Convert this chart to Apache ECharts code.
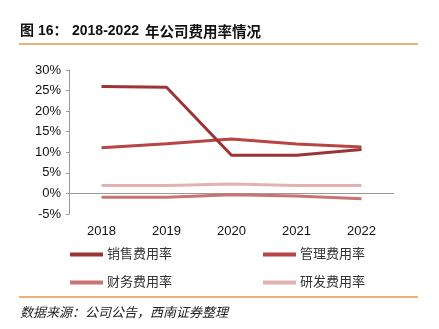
<!DOCTYPE html>
<html>
<head>
<meta charset="utf-8">
<script src="https://cdn.jsdelivr.net/npm/echarts@6/dist/echarts.min.js"></script>
<style>
html,body{margin:0;padding:0;background:#fff;}
#c{width:439px;height:329px;}
</style>
</head>
<body>
<div id="c"></div>
<script>
const categories = ['2018', '2019', '2020', '2021', '2022'];
const seriesNames = ['销售费用率', '管理费用率', '财务费用率', '研发费用率'];
const salesRate = [26.0, 25.8, 9.3, 9.3, 10.7];
const adminRate = [11.1, 12.1, 13.2, 12.0, 11.3];
const financeRate = [-0.9, -0.9, -0.3, -0.6, -1.3];
const rdRate = [1.9, 1.9, 2.3, 1.9, 1.9];
const yTicks = { min: -5, max: 30, interval: 5 };
const titleParts = ['图 16：', '2018-2022', '年公司费用率情况'];
const sourceText = '数据来源：公司公告，西南证券整理';

const colors = ['#9C3434', '#B84444', '#CB7272', '#E2B2B2'];
const values = [salesRate, adminRate, financeRate, rdRate];
const cjk = '"Liberation Sans", Arial, "Noto Sans CJK SC", sans-serif';

const chart = echarts.init(document.getElementById('c'), null, { renderer: 'canvas' });

const legendPos = [
  { left: 70, top: 248 },
  { left: 263, top: 248 },
  { left: 70, top: 276 },
  { left: 263, top: 276 }
];

const series = seriesNames.map((name, i) => {
  const s = {
    name: name,
    type: 'line',
    data: values[i],
    symbol: 'none',
    z: 10 - i,
    lineStyle: { width: 3, color: colors[i] },
    itemStyle: { color: colors[i] }
  };
  if (i === 0) {
    s.markLine = {
      silent: true,
      symbol: ['none', 'none'],
      label: { show: false },
      lineStyle: { color: '#999', width: 1, type: 'solid' },
      data: [{ yAxis: 0 }],
      animation: false,
      z: 1
    };
  }
  return s;
});

chart.setOption({
  animation: false,
  color: colors,
  grid: { left: 69, right: 45, top: 70, bottom: 115 },
  legend: seriesNames.map((n, i) => ({
    data: [n],
    left: legendPos[i].left,
    top: legendPos[i].top,
    icon: 'rect',
    itemWidth: 33,
    itemHeight: 4,
    itemGap: 0,
    padding: 0,
    textStyle: { fontSize: 13, color: '#333', fontFamily: cjk, padding: [0, 0, 0, -1] }
  })),
  xAxis: {
    type: 'category',
    data: categories,
    boundaryGap: true,
    axisLine: { show: false },
    axisTick: { show: false },
    axisLabel: { margin: 11, fontSize: 13, color: '#111', fontFamily: cjk }
  },
  yAxis: {
    type: 'value',
    min: yTicks.min,
    max: yTicks.max,
    interval: yTicks.interval,
    axisLine: { show: true, lineStyle: { color: '#999', width: 1 } },
    axisTick: { show: true, inside: false, length: 3, lineStyle: { color: '#999' } },
    splitLine: { show: false },
    axisLabel: { formatter: '{value}%', margin: 8, fontSize: 13, color: '#111', fontFamily: cjk }
  },
  series: series,
  graphic: [
    {
      type: 'text', left: 20, top: 24,
      style: { text: titleParts[0], font: 'bold 14px ' + cjk, fill: '#111' }
    },
    {
      type: 'text', left: 72, top: 24,
      style: { text: titleParts[1], font: 'bold 14px ' + cjk, fill: '#111' }
    },
    {
      type: 'text', left: 145, top: 24,
      style: { text: titleParts[2], font: 'bold 14.5px "Noto Sans CJK SC", sans-serif', fill: '#111' }
    },
    {
      type: 'line', shape: { x1: 19, y1: 44, x2: 418, y2: 44 },
      style: { stroke: '#E09A48', lineWidth: 1.5 }
    },
    {
      type: 'line', shape: { x1: 19, y1: 297, x2: 418, y2: 297 },
      style: { stroke: '#E09A48', lineWidth: 1.5 }
    },
    {
      type: 'text', left: 20, top: 306,
      style: { text: sourceText, font: 'italic 13px "Noto Sans CJK SC", sans-serif', fill: '#222' }
    }
  ]
});
</script>
</body>
</html>
